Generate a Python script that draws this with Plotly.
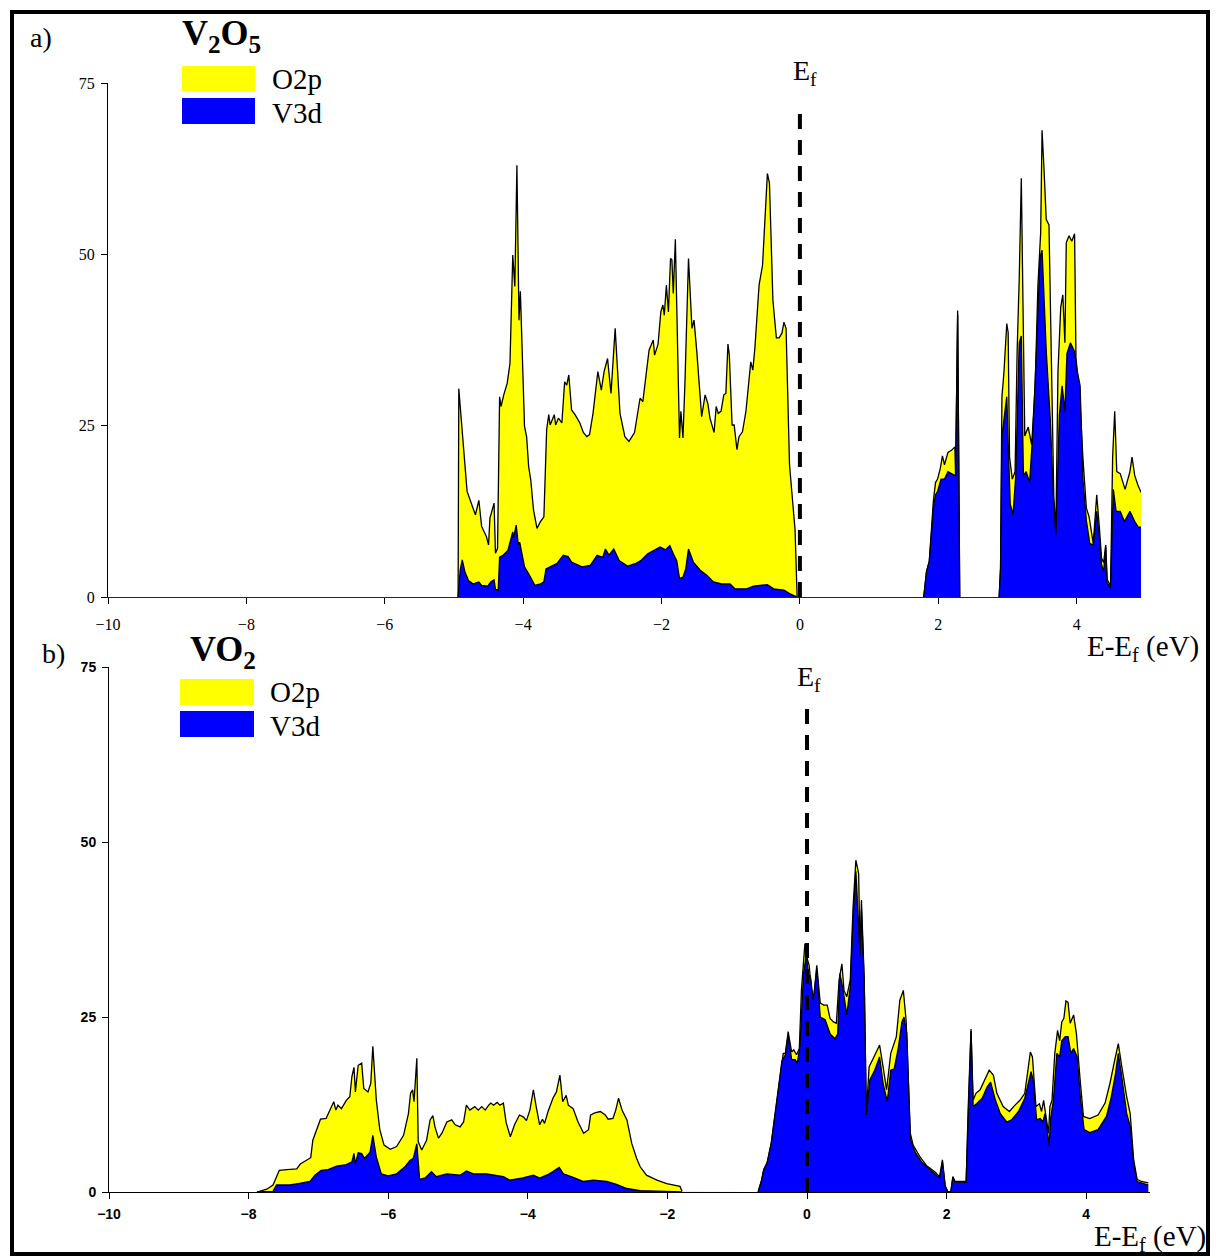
import plotly.graph_objects as go

# ---------------- Panel a) V2O5 : DOS (states/eV) ----------------
# total (O2p stacked on V3d) upper envelope; None separates bands
A_TOT_E = [-4.94, -4.93, -4.81, -4.75, -4.69, -4.64, -4.60, -4.53, -4.50, -4.48, -4.42, -4.40, -4.37, -4.34, -4.32,
           -4.28, -4.23, -4.19, -4.15, -4.12, -4.09, -4.06, -4.04, -3.98, -3.95, -3.92, -3.89, -3.85, -3.80, -3.75,
           -3.70, -3.66, -3.63, -3.61, -3.55, -3.53, -3.49, -3.44, -3.40, -3.37, -3.34, -3.30, -3.25, -3.18, -3.13,
           -3.08, -3.04, -2.99, -2.92, -2.87, -2.83, -2.78, -2.73, -2.67, -2.60, -2.53, -2.47, -2.39, -2.31, -2.27,
           -2.23, -2.18, -2.12, -2.10, -2.05, -2.01, -1.98, -1.96, -1.93, -1.90, -1.87, -1.85, -1.83, -1.80, -1.74,
           -1.72, -1.69, -1.66, -1.61, -1.56, -1.53, -1.49, -1.42, -1.37, -1.33, -1.30, -1.24, -1.21, -1.18, -1.14,
           -1.10, -1.07, -1.04, -1.02, -0.98, -0.95, -0.91, -0.88, -0.83, -0.78, -0.71, -0.68, -0.65, -0.59, -0.54,
           -0.47, -0.44, -0.39, -0.34, -0.30, -0.26, -0.23, -0.20, -0.15, -0.07, -0.04, None,
           1.79, 1.83, 1.87, 1.90, 1.93, 1.96, 1.99, 2.03, 2.06, 2.09, 2.14, 2.19, 2.24, 2.25, 2.28, 2.31, None,
           2.88, 2.90, 2.92, 2.95, 2.99, 3.01, 3.03, 3.07, 3.11, 3.14, 3.17, 3.20, 3.23, 3.25, 3.30, 3.35, 3.40,
           3.44, 3.48, 3.50, 3.53, 3.56, 3.60, 3.64, 3.67, 3.70, 3.73, 3.77, 3.80, 3.83, 3.85, 3.89, 3.93, 3.97,
           3.99, 4.05, 4.09, 4.14, 4.18, 4.24, 4.29, 4.33, 4.36, 4.39, 4.42, 4.44, 4.49, 4.52, 4.55, 4.58, 4.63,
           4.70, 4.77, 4.80, 4.84, 4.89, 4.94]
A_TOT = [0, 30.4, 15.4, 13.7, 12.0, 14.1, 10.3, 8.8, 7.6, 11.5, 13.7, 6.4, 7.1, 29.2, 27.8,
         29.5, 31.2, 34.1, 49.9, 45.3, 63.0, 40.4, 44.6, 24.9, 23.4, 19.0, 17.1, 12.7, 10.0, 11.0,
         11.7, 24.4, 26.6, 25.1, 26.6, 25.1, 26.1, 25.4, 31.4, 30.9, 32.4, 27.3, 26.6, 25.4, 24.0,
         23.4, 23.7, 26.8, 32.9, 30.2, 32.9, 34.8, 29.7, 39.2, 26.8, 23.4, 22.7, 24.0, 29.0, 28.5,
         32.0, 36.0, 37.5, 35.3, 36.9, 41.6, 42.6, 41.1, 45.5, 41.6, 49.4, 49.2, 44.3, 52.2, 23.2,
         27.1, 23.2, 31.7, 49.4, 39.2, 40.4, 35.8, 26.3, 29.5, 28.2, 26.1, 24.0, 27.8, 26.8, 27.1,
         29.5, 29.7, 36.9, 35.3, 25.1, 25.1, 21.5, 23.4, 24.1, 27.1, 34.3, 33.1, 36.4, 45.5, 48.4,
         61.8, 60.4, 43.3, 37.8, 37.8, 38.5, 40.1, 39.2, 19.3, 9.8, 0, None,
         0, 3.7, 5.2, 9.9, 14.1, 16.7, 17.2, 18.8, 20.6, 19.3, 21.1, 21.4, 21.9, 17.7, 41.8, 0, None,
         0, 4.2, 29.2, 32.9, 39.9, 38.6, 20.4, 17.2, 18.3, 36.0, 46.5, 61.1, 38.6, 23.5, 24.8, 22.2, 30.8,
         45.4, 53.2, 68.1, 62.1, 55.1, 54.3, 32.9, 14.6, 9.9, 32.9, 42.3, 44.1, 37.1, 51.7, 52.7, 51.9, 53.0,
         35.0, 28.2, 20.4, 13.0, 11.7, 7.8, 14.9, 9.9, 5.7, 5.0, 7.6, 2.6, 1.6, 20.4, 27.1, 18.3, 18.0,
         15.7, 18.3, 20.4, 17.7, 16.2, 15.1]

A_V3D_E = [-4.94, -4.91, -4.88, -4.84, -4.79, -4.72, -4.64, -4.60, -4.51, -4.47, -4.42, -4.40, -4.36, -4.34, -4.29,
           -4.22, -4.15, -4.14, -4.10, -4.07, -4.05, -3.98, -3.91, -3.83, -3.75, -3.70, -3.67, -3.61, -3.51, -3.42,
           -3.35, -3.30, -3.15, -3.03, -2.93, -2.85, -2.81, -2.76, -2.69, -2.61, -2.49, -2.37, -2.30, -2.20, -2.11,
           -2.02, -1.94, -1.88, -1.83, -1.78, -1.74, -1.69, -1.65, -1.61, -1.54, -1.44, -1.35, -1.25, -1.13, -1.01,
           -0.94, -0.77, -0.67, -0.47, -0.38, -0.23, -0.15, -0.07, -0.04, None,
           1.79, 1.83, 1.87, 1.90, 1.93, 1.96, 1.99, 2.04, 2.09, 2.14, 2.24, 2.25, 2.28, 2.31, None,
           2.88, 2.90, 2.92, 2.99, 3.01, 3.04, 3.08, 3.12, 3.17, 3.20, 3.23, 3.27, 3.32, 3.37, 3.42, 3.47, 3.50,
           3.56, 3.62, 3.67, 3.70, 3.75, 3.79, 3.83, 3.86, 3.91, 3.97, 4.00, 4.05, 4.09, 4.14, 4.19, 4.24, 4.29,
           4.33, 4.36, 4.39, 4.42, 4.44, 4.49, 4.53, 4.57, 4.63, 4.69, 4.77, 4.84, 4.89, 4.94]
A_V3D = [0, 3.9, 5.4, 3.6, 2.4, 1.9, 2.2, 1.7, 1.6, 2.2, 2.5, 1.1, 1.0, 5.8, 6.1,
         6.8, 9.5, 8.6, 10.5, 7.6, 8.0, 4.4, 3.2, 1.7, 1.9, 2.2, 4.1, 4.4, 4.9, 6.1,
         5.9, 5.1, 4.4, 4.6, 6.1, 5.8, 7.0, 6.1, 7.0, 5.3, 4.5, 4.9, 5.3, 6.3, 6.8,
         7.3, 6.9, 7.5, 6.3, 5.3, 2.7, 2.9, 4.1, 7.0, 5.1, 3.9, 3.2, 2.2, 1.9, 1.9,
         1.2, 1.2, 1.6, 1.8, 1.2, 1.0, 0.5, 0.1, 0, None,
         0, 3.7, 5.2, 9.9, 13.0, 14.9, 15.4, 17.2, 17.2, 18.3, 17.7, 17.7, 41.2, 0, None,
         0, 4.2, 23.5, 29.2, 22.4, 13.6, 12.0, 17.7, 37.1, 38.1, 17.7, 18.3, 16.7, 24.5, 36.0, 49.6, 50.6,
         36.0, 25.6, 13.0, 9.1, 26.6, 30.8, 27.1, 35.5, 37.1, 35.8, 33.4, 30.8, 17.2, 11.2, 7.8, 7.6, 12.5,
         8.4, 4.7, 3.7, 7.3, 2.1, 1.3, 15.7, 12.5, 12.5, 11.0, 12.5, 11.0, 10.2, 10.2]

# ---------------- Panel b) VO2 ----------------
B_TOT_E = [-7.88, -7.74, -7.65, -7.60, -7.56, -7.45, -7.31, -7.26, -7.19, -7.11, -7.08, -7.02, -6.97, -6.89, -6.82,
           -6.78, -6.75, -6.72, -6.67, -6.60, -6.55, -6.52, -6.49, -6.47, -6.43, -6.38, -6.35, -6.29, -6.25, -6.22,
           -6.17, -6.12, -6.06, -5.97, -5.88, -5.78, -5.71, -5.68, -5.65, -5.63, -5.59, -5.57, -5.52, -5.45, -5.40,
           -5.36, -5.33, -5.28, -5.23, -5.16, -5.09, -5.04, -4.97, -4.92, -4.88, -4.83, -4.76, -4.71, -4.66, -4.61,
           -4.56, -4.53, -4.49, -4.44, -4.40, -4.35, -4.31, -4.25, -4.19, -4.12, -4.06, -4.02, -3.97, -3.92, -3.88,
           -3.83, -3.79, -3.76, -3.71, -3.64, -3.59, -3.54, -3.50, -3.45, -3.42, -3.35, -3.28, -3.20, -3.13, -3.10,
           -3.04, -2.96, -2.89, -2.85, -2.78, -2.74, -2.70, -2.65, -2.58, -2.51, -2.44, -2.39, -2.30, -2.15, -2.01,
           -1.91, -1.82, -1.79, None,
           -0.70, -0.65, -0.62, -0.57, -0.51, -0.46, -0.41, -0.36, -0.34, -0.31, -0.27, -0.22, -0.19, -0.15, -0.11,
           -0.08, -0.03, -0.01, 0.03, 0.07, 0.10, 0.14, 0.19, 0.24, 0.29, 0.33, 0.38, 0.42, 0.46, 0.50,
           0.53, 0.57, 0.62, 0.66, 0.70, 0.74, 0.76, 0.78, 0.82, 0.85, 0.89, 0.95, 1.04, 1.09, 1.14,
           1.20, 1.24, 1.28, 1.33, 1.38, 1.42, 1.48, 1.52, 1.62, 1.71, 1.83, 1.90, 1.94, 1.98, 2.02,
           2.06, 2.09, 2.12, 2.28, 2.31, 2.35, 2.38, 2.42, 2.48, 2.55, 2.61, 2.67, 2.72, 2.81, 2.90,
           2.96, 3.05, 3.12, 3.16, 3.20, 3.23, 3.28, 3.33, 3.36, 3.39, 3.42, 3.46, 3.48, 3.51, 3.55,
           3.59, 3.62, 3.65, 3.68, 3.71, 3.74, 3.77, 3.82, 3.86, 3.91, 3.96, 4.05, 4.17, 4.27, 4.34,
           4.41, 4.46, 4.51, 4.58, 4.63, 4.68, 4.73, 4.79, 4.89]
B_TOT = [0, 0.4, 1.0, 2.2, 3.1, 3.2, 3.3, 4.0, 4.4, 4.9, 7.4, 9.1, 10.4, 10.5, 11.9,
         12.9, 11.7, 12.4, 11.9, 13.1, 13.6, 16.5, 17.8, 14.3, 18.1, 18.4, 14.8, 14.3, 15.5, 20.8,
         13.1, 8.9, 6.7, 6.1, 6.5, 8.1, 11.2, 14.1, 14.6, 12.9, 19.1, 7.2, 6.0, 7.4, 10.3,
         10.9, 9.3, 7.7, 8.4, 10.0, 10.3, 9.6, 9.3, 10.0, 12.4, 11.7, 12.2, 11.7, 12.2, 11.7,
         12.4, 12.7, 12.4, 12.8, 12.4, 12.7, 9.9, 7.9, 9.6, 11.0, 10.7, 10.2, 11.7, 14.6, 12.2,
         9.6, 10.4, 9.8, 11.5, 13.4, 14.3, 16.7, 12.9, 13.8, 12.4, 11.9, 10.0, 8.4, 8.9, 11.0,
         11.3, 11.5, 11.0, 10.4, 10.5, 11.7, 13.4, 11.7, 10.3, 6.9, 4.8, 3.6, 2.4, 1.7, 1.2,
         1.0, 0.8, 0.1, None,
         0, 1.7, 3.2, 4.2, 7.1, 10.8, 15.0, 18.9, 19.8, 19.8, 22.9, 20.0, 20.3, 19.6, 20.5,
         28.8, 35.5, 33.8, 32.4, 28.4, 27.9, 32.4, 27.0, 26.7, 26.7, 24.8, 24.3, 24.1, 30.3, 32.6,
         28.8, 27.9, 30.3, 40.7, 47.4, 45.5, 33.8, 41.7, 30.3, 11.2, 17.9, 19.1, 21.0, 17.9, 14.6,
         19.8, 21.0, 22.2, 27.4, 28.8, 24.5, 8.4, 6.7, 5.0, 3.8, 2.9, 2.2, 4.6, 0.8, 0,
         0, 2.2, 1.5, 1.5, 12.2, 23.3, 13.1, 14.1, 14.6, 16.0, 17.4, 16.7, 14.1, 12.2, 11.5,
         12.2, 13.1, 14.1, 17.0, 20.0, 19.3, 12.2, 12.6, 11.5, 13.1, 11.0, 8.4, 12.2, 13.1, 19.8,
         23.1, 21.6, 24.3, 24.8, 27.3, 27.1, 24.1, 25.3, 22.6, 16.4, 10.8, 10.5, 11.0, 12.7, 15.5,
         18.9, 21.2, 17.9, 13.6, 11.2, 4.6, 1.8, 1.5, 1.3]

B_V3D_E = [-7.88, -7.65, -7.60, -7.41, -7.29, -7.12, -7.05, -6.96, -6.86, -6.74, -6.60, -6.52, -6.49, -6.47, -6.43,
           -6.38, -6.34, -6.26, -6.22, -6.17, -6.10, -6.00, -5.88, -5.76, -5.69, -5.64, -5.59, -5.55, -5.47, -5.38,
           -5.31, -5.16, -4.97, -4.88, -4.78, -4.59, -4.35, -4.26, -4.07, -3.92, -3.83, -3.69, -3.55, -3.49, -3.35,
           -3.20, -3.06, -2.87, -2.73, -2.58, -2.39, -1.79, None,
           -0.70, -0.65, -0.62, -0.57, -0.51, -0.46, -0.41, -0.36, -0.31, -0.27, -0.22, -0.17, -0.14, -0.10, -0.05,
           -0.01, 0.02, 0.05, 0.09, 0.14, 0.19, 0.26, 0.33, 0.40, 0.44, 0.47, 0.51, 0.57, 0.62, 0.66,
           0.70, 0.74, 0.76, 0.78, 0.82, 0.85, 0.90, 0.97, 1.04, 1.09, 1.15, 1.20, 1.25, 1.31, 1.36,
           1.39, 1.43, 1.48, 1.55, 1.64, 1.74, 1.83, 1.90, 1.94, 1.98, 2.02, 2.06, 2.09, 2.12, 2.28,
           2.31, 2.35, 2.38, 2.43, 2.51, 2.58, 2.63, 2.70, 2.77, 2.86, 2.93, 3.03, 3.12, 3.17, 3.21,
           3.24, 3.29, 3.34, 3.38, 3.41, 3.44, 3.47, 3.49, 3.53, 3.58, 3.62, 3.65, 3.70, 3.74, 3.78,
           3.82, 3.87, 3.92, 3.97, 4.05, 4.17, 4.29, 4.36, 4.42, 4.46, 4.51, 4.58, 4.63, 4.68, 4.73, 4.89]
B_V3D = [0, 0.1, 1.0, 1.0, 1.2, 1.5, 2.4, 3.1, 3.2, 3.7, 3.9, 4.3, 5.5, 4.0, 5.6,
         5.5, 4.8, 5.7, 8.1, 5.0, 2.6, 2.3, 2.6, 3.6, 4.5, 4.8, 6.9, 1.8, 2.0, 2.9,
         2.2, 2.6, 2.4, 3.0, 2.6, 2.6, 2.2, 1.7, 2.0, 2.4, 2.0, 2.6, 3.5, 2.6, 2.1,
         1.5, 1.7, 1.5, 1.1, 0.5, 0.2, 0, None,
         0, 1.7, 3.2, 4.2, 7.1, 10.8, 15.0, 18.7, 19.6, 22.4, 18.9, 18.9, 18.4, 20.8, 31.2,
         33.8, 31.2, 30.7, 27.4, 31.9, 25.0, 24.6, 22.6, 21.9, 22.6, 31.2, 29.3, 25.3, 29.3, 38.9,
         45.8, 37.9, 33.8, 40.3, 29.8, 11.0, 16.0, 17.4, 19.3, 15.5, 12.9, 17.4, 17.6, 20.7, 24.3,
         25.0, 22.6, 7.6, 5.7, 4.3, 3.4, 2.5, 2.0, 4.3, 0.8, 0, 0, 2.1, 1.4, 1.4,
         11.7, 23.0, 12.2, 12.6, 13.4, 15.0, 15.7, 13.1, 11.2, 10.0, 10.3, 11.5, 13.4, 15.7, 17.2,
         16.0, 10.3, 10.5, 10.0, 11.2, 8.9, 6.7, 10.5, 13.1, 19.8, 19.3, 21.6, 22.2, 22.2, 19.8,
         20.5, 19.3, 13.1, 8.9, 8.5, 8.9, 10.8, 13.6, 16.9, 19.8, 16.4, 11.2, 9.4, 4.1, 1.5, 1.0]

X_TICKS = [-10, -8, -6, -4, -2, 0, 2, 4]
Y_TICKS = [0, 25, 50, 75]
SERIES = ["O2p", "V3d"]
COLORS = {"O2p": "#FFFF00", "V3d": "#0000FF"}

W, H = 1216, 1258
SERIF = "Liberation Serif, Times New Roman, serif"
SANS = "Liberation Sans, Arial, sans-serif"

def px(x):
    return x / W

def py(y):
    return 1 - y / H

fig = go.Figure()

def add_dos(e_tot, tot, e_v, v, xa, ya):
    fig.add_trace(go.Scatter(x=e_tot, y=tot, mode="lines", fill="tozeroy",
                             fillcolor=COLORS["O2p"], line=dict(color="black", width=1.3),
                             connectgaps=False, xaxis=xa, yaxis=ya, showlegend=False, hoverinfo="skip"))
    fig.add_trace(go.Scatter(x=e_v, y=v, mode="lines", fill="tozeroy",
                             fillcolor=COLORS["V3d"], line=dict(color="black", width=1.3),
                             connectgaps=False, xaxis=xa, yaxis=ya, showlegend=False, hoverinfo="skip"))

add_dos(A_TOT_E, A_TOT, A_V3D_E, A_V3D, "x", "y")
add_dos(B_TOT_E, B_TOT, B_V3D_E, B_V3D, "x2", "y2")

common_x = dict(tickmode="array", tickvals=X_TICKS, ticks="outside", ticklen=6, showgrid=False,
                zeroline=False, showline=True, mirror=False, automargin=False)
common_y = dict(tickmode="array", tickvals=Y_TICKS, ticks="outside", ticklen=6, showgrid=False,
                zeroline=False, showline=True, linecolor="black", linewidth=1, range=[0, 75],
                automargin=False)

fig.update_layout(
    width=W, height=H, margin=dict(l=0, r=0, t=0, b=0, pad=0, autoexpand=False),
    paper_bgcolor="white", plot_bgcolor="white",
    xaxis=dict(common_x, domain=[px(108), px(1141)], range=[-10, 4.93], anchor="y",
               linecolor="#1a1a80", linewidth=1.2, tickcolor="black",
               tickfont=dict(family=SERIF, size=16, color="black"), ticklabelstandoff=7),
    yaxis=dict(common_y, domain=[py(597), py(83)], anchor="x", tickcolor="black",
               tickfont=dict(family=SERIF, size=16, color="black"), ticklabelstandoff=3),
    xaxis2=dict(common_x, domain=[px(109), px(1150)], range=[-10, 4.914], anchor="y2",
                linecolor="black", linewidth=1.3, tickcolor="black",
                tickfont=dict(family=SANS, size=14, color="black", weight="bold"), ticklabelstandoff=3),
    yaxis2=dict(common_y, domain=[py(1192), py(667)], anchor="x2", tickcolor="black",
                tickfont=dict(family=SANS, size=14, color="black", weight="bold"), ticklabelstandoff=3),
)

shapes = []
# outer frame
shapes.append(dict(type="rect", xref="paper", yref="paper", x0=px(12), x1=px(1208), y0=py(1254), y1=py(12),
                   line=dict(color="black", width=4), fillcolor="rgba(0,0,0,0)", layer="above"))
# Ef dashed lines
shapes.append(dict(type="line", xref="x", yref="y", x0=0, x1=0, y0=0, y1=71.5,
                   line=dict(color="black", width=4, dash="15px,11px"), layer="above"))
shapes.append(dict(type="line", xref="x2", yref="y2", x0=0, x1=0, y0=0, y1=69.9,
                   line=dict(color="black", width=4, dash="15px,11px"), layer="above"))
# legend swatches
for (x0, x1, y0, y1, s) in [(182, 255, 66, 91, "O2p"), (182, 255, 98, 124, "V3d"),
                            (180, 254, 679, 705, "O2p"), (180, 254, 711, 737, "V3d")]:
    shapes.append(dict(type="rect", xref="paper", yref="paper", x0=px(x0), x1=px(x1), y0=py(y1), y1=py(y0),
                       line=dict(width=0), fillcolor=COLORS[s]))
fig.update_layout(shapes=shapes)

ann = []
def text(t, x, y, size, xanchor="left", bold=False, family=SERIF):
    ann.append(dict(text=t, x=px(x), y=py(y), xref="paper", yref="paper", xanchor=xanchor, yanchor="middle",
                    showarrow=False, font=dict(family=family, size=size, color="black",
                                               weight="bold" if bold else "normal")))

text("a)", 28, 38, 28)
text("V<sub>2</sub>O<sub>5</sub>", 180, 36, 36, bold=True)
text(SERIES[0], 270, 79, 29)
text(SERIES[1], 270, 113, 29)
text("E<sub>f</sub>", 805, 72, 28, xanchor="center")
text("E-E<sub>f</sub> (eV)", 1201, 648, 29, xanchor="right")

text("b)", 40, 653, 28)
text("VO<sub>2</sub>", 188, 651, 36, bold=True)
text(SERIES[0], 268, 692, 29)
text(SERIES[1], 268, 726, 29)
text("E<sub>f</sub>", 809, 678, 28, xanchor="center")
text("E-E<sub>f</sub> (eV)", 1208, 1238, 29, xanchor="right")
fig.update_layout(annotations=ann)

fig.write_html("out.html", config={"displayModeBar": False},
               post_script="document.body.style.margin='0';document.body.style.overflow='hidden';")
